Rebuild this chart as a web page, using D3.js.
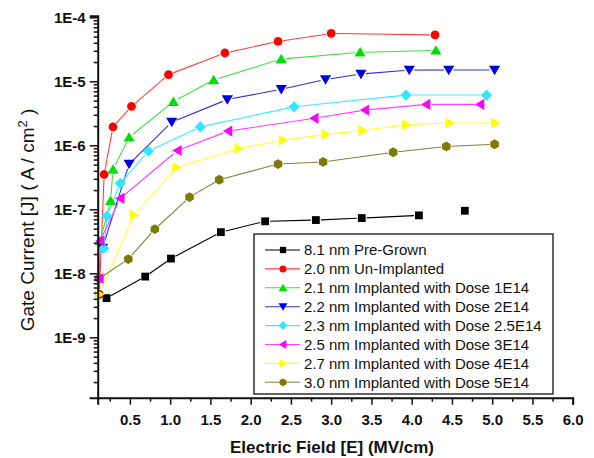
<!DOCTYPE html>
<html>
<head>
<meta charset="utf-8">
<script src="https://cdn.jsdelivr.net/npm/d3@7/dist/d3.min.js"></script>
<style>
  body { margin: 0; background: #fff; }
  svg { display: block; font-family: Arial, "Liberation Sans", sans-serif; }
</style>
</head>
<body>
<script>
// series labels, colours and marker shapes
var names = [
  "8.1 nm Pre-Grown",
  "2.0 nm Un-Implanted",
  "2.1 nm Implanted with Dose 1E14",
  "2.2 nm Implanted with Dose 2E14",
  "2.3 nm Implanted with Dose 2.5E14",
  "2.5 nm Implanted with Dose 3E14",
  "2.7 nm Implanted with Dose 4E14",
  "3.0 nm Implanted with Dose 5E14"
];
var colors = ["#000000", "#ff0000", "#00e000", "#0000e0", "#33e6ff", "#ff00ff", "#ffff00", "#7b7b00"];
var lineColors = ["#000000", "#ff4040", "#40e040", "#3030d0", "#40e8ff", "#ff40ff", "#ffff30", "#808040"];
var shapes = ["square", "circle", "up", "down", "diamond", "left", "right", "hexagon"];

// electric field (MV/cm) and gate current (A/cm2) per series
var e0 = [0.21, 0.69, 1.01, 1.63, 2.18, 2.81, 3.38, 4.09];
var j0 = [4.1e-9, 8.9e-9, 1.7e-8, 4.4e-8, 6.5e-8, 6.8e-8, 7.3e-8, 8.05e-8];
var e0Loose = [4.66];          // last pre-grown point, not joined
var j0Loose = [9.5e-8];

var e1 = [0.12, 0.18, 0.29, 0.52, 0.98, 1.68, 2.34, 3.0, 4.29];
var j1 = [4.7e-9, 3.5e-7, 1.94e-6, 4.06e-6, 1.27e-5, 2.77e-5, 4.2e-5, 5.6e-5, 5.3e-5];

var e2 = [0.13, 0.26, 0.29, 0.49, 1.04, 1.54, 2.38, 3.36, 4.30];
var j2 = [3.2e-8, 1.36e-7, 4.2e-7, 1.33e-6, 4.8e-6, 1.05e-5, 2.23e-5, 2.84e-5, 3.05e-5];

var e3 = [0.16, 0.49, 1.02, 1.71, 2.38, 2.93, 3.37, 3.97, 4.46, 5.03];
var j3 = [2.5e-8, 5.1e-7, 2.31e-6, 5.2e-6, 7.5e-6, 1.07e-5, 1.3e-5, 1.5e-5, 1.5e-5, 1.5e-5];

var e4 = [0.175, 0.215, 0.38, 0.73, 1.375, 2.54, 3.93, 4.93];
var j4 = [2.45e-8, 7.85e-8, 2.55e-7, 8.1e-7, 1.94e-6, 4.0e-6, 6.1e-6, 6.1e-6];

var e5 = [0.12, 0.13, 0.38, 1.09, 1.72, 2.79, 3.42, 4.18, 4.85];
var j5 = [8.3e-9, 3.2e-8, 1.48e-7, 8.3e-7, 1.67e-6, 2.64e-6, 3.55e-6, 4.36e-6, 4.36e-6];

var e6 = [0.12, 0.55, 1.08, 1.85, 2.40, 2.93, 3.39, 3.93, 4.47, 5.04];
var j6 = [4.7e-9, 8.1e-8, 4.5e-7, 8.9e-7, 1.2e-6, 1.48e-6, 1.71e-6, 2.1e-6, 2.23e-6, 2.23e-6];

var e7 = [0.12, 0.48, 0.81, 1.24, 1.61, 2.34, 2.90, 3.77, 4.43, 5.03];
var j7 = [8.3e-9, 1.67e-8, 4.9e-8, 1.55e-7, 2.9e-7, 5.1e-7, 5.5e-7, 7.8e-7, 9.6e-7, 1.04e-6];

var fields = [e0, e1, e2, e3, e4, e5, e6, e7];
var currents = [j0, j1, j2, j3, j4, j5, j6, j7];

// axis ticks
var xMajor = [0.5, 1.0, 1.5, 2.0, 2.5, 3.0, 3.5, 4.0, 4.5, 5.0, 5.5, 6.0];
var xMinor = [0.25, 0.75, 1.25, 1.75, 2.25, 2.75, 3.25, 3.75, 4.25, 4.75, 5.25, 5.75];
var yMajor = [1e-9, 1e-8, 1e-7, 1e-6, 1e-5, 1e-4];

var w = 594, h = 458;
var pLeft = 97.7, pRight = 572.7, pTop = 15.7, pBottom = 397.7;

var svg = d3.select("body").append("svg")
    .attr("width", w)
    .attr("height", h);

var x = d3.scaleLinear().domain([0.1, 6.0]).range([pLeft, pRight]);
var y = d3.scaleLog().domain([1.14e-10, 1.06e-4]).range([pBottom, pTop]);

// minor y ticks 2..9 of each decade
var yMinor = [];
[-10, -9, -8, -7, -6, -5].forEach(function(p) {
  for (var k = 2; k <= 9; k++) {
    var v = k * Math.pow(10, p);
    if (v > y.domain()[0] && v < y.domain()[1]) yMinor.push(v);
  }
});

// marker path, centred on 0,0
function markerPath(shape, s) {
  var p;
  if (shape == "square") {
    var a = 3.9 * s;
    return "M" + (-a) + "," + (-a) + "H" + a + "V" + a + "H" + (-a) + "Z";
  }
  if (shape == "circle") {
    var r = 4.4 * s;
    return "M" + r + ",0A" + r + "," + r + " 0 1,1 " + (-r) + ",0A" + r + "," + r + " 0 1,1 " + r + ",0Z";
  }
  if (shape == "up")      p = [[0, -5.2], [5.6, 4.2], [-5.6, 4.2]];
  if (shape == "down")    p = [[0, 5.2], [5.6, -4.2], [-5.6, -4.2]];
  if (shape == "left")    p = [[-5.2, 0], [4.2, -5.6], [4.2, 5.6]];
  if (shape == "right")   p = [[5.2, 0], [-4.2, -5.6], [-4.2, 5.6]];
  if (shape == "diamond") p = [[0, -5.6], [5.6, 0], [0, 5.6], [-5.6, 0]];
  if (shape == "hexagon") {
    p = d3.range(6).map(function(i) {
      var t = Math.PI / 3 * i - Math.PI / 2;
      return [4.9 * Math.cos(t), 4.9 * Math.sin(t)];
    });
  }
  return "M" + p.map(function(q) { return (q[0] * s) + "," + (q[1] * s); }).join("L") + "Z";
}

// lines between markers, with a small gap at each marker
var gap = 5;
var plot = svg.append("g");
fields.forEach(function(xs, i) {
  var pts = xs.map(function(v, k) { return [x(v), y(currents[i][k])]; });
  for (var k = 0; k < pts.length - 1; k++) {
    var a = pts[k], b = pts[k + 1];
    var dx = b[0] - a[0], dy = b[1] - a[1];
    var len = Math.sqrt(dx * dx + dy * dy);
    if (len < 2 * gap + 1) continue;
    var ux = dx / len, uy = dy / len;
    plot.append("line")
        .attr("x1", a[0] + ux * gap).attr("y1", a[1] + uy * gap)
        .attr("x2", b[0] - ux * gap).attr("y2", b[1] - uy * gap)
        .attr("stroke", lineColors[i])
        .attr("stroke-width", 1.1);
  }
});

// markers; olive first so the magenta one stays on top at the bottom left
[7, 0, 1, 2, 3, 4, 5, 6].forEach(function(i) {
  var xs = fields[i], ys = currents[i];
  plot.selectAll(null)
      .data(xs.map(function(v, k) { return [v, ys[k]]; }))
      .enter()
      .append("path")
      .attr("d", markerPath(shapes[i], 1))
      .attr("transform", function(d) { return "translate(" + x(d[0]) + "," + y(d[1]) + ")"; })
      .attr("fill", colors[i]);
});
plot.selectAll(null)
    .data(e0Loose.map(function(v, k) { return [v, j0Loose[k]]; }))
    .enter()
    .append("path")
    .attr("d", markerPath("square", 1))
    .attr("transform", function(d) { return "translate(" + x(d[0]) + "," + y(d[1]) + ")"; })
    .attr("fill", colors[0]);

// axes
svg.append("g")
    .attr("transform", "translate(" + pLeft + ",0)")
    .call(d3.axisLeft(y).tickValues(yMajor).tickSize(8).tickPadding(4)
      .tickFormat(function(d) { return "1E" + Math.round(Math.log10(d)); }));
svg.append("g")
    .attr("transform", "translate(" + pLeft + ",0)")
    .call(d3.axisLeft(y).tickValues(yMinor).tickSize(4).tickFormat(""))
    .select(".domain").remove();

svg.append("g")
    .attr("transform", "translate(0," + pBottom + ")")
    .call(d3.axisBottom(x).tickValues(xMajor).tickSize(7).tickPadding(10)
      .tickFormat(d3.format(".1f")));
svg.append("g")
    .attr("transform", "translate(0," + pBottom + ")")
    .call(d3.axisBottom(x).tickValues(xMinor).tickSize(4).tickFormat(""))
    .select(".domain").remove();

svg.selectAll(".domain").attr("stroke-width", 2).attr("stroke", "#111");
svg.selectAll(".tick line").attr("stroke-width", 1.5).attr("stroke", "#111");
svg.selectAll(".tick text")
    .attr("font-family", "Arial, 'Liberation Sans', sans-serif")
    .attr("font-size", 15)
    .attr("font-weight", "bold")
    .attr("fill", "#111");

// axis titles
svg.append("text")
    .attr("x", 332)
    .attr("y", 453)
    .attr("text-anchor", "middle")
    .attr("font-size", 17)
    .attr("font-weight", "bold")
    .attr("fill", "#111")
    .text("Electric Field [E] (MV/cm)");

var yt = svg.append("text")
    .attr("transform", "translate(34,220) rotate(-90)")
    .attr("text-anchor", "middle")
    .attr("font-size", 19)
    .attr("fill", "#111");
yt.append("tspan").text("Gate Current [J] ( A / cm");
yt.append("tspan").attr("dy", -7).attr("font-size", 13).text("2");
yt.append("tspan").attr("dy", 7).text(" )");

// legend
var lg = svg.append("g");
lg.append("rect")
    .attr("x", 254).attr("y", 234)
    .attr("width", 299).attr("height", 160)
    .attr("fill", "#fff")
    .attr("stroke", "#111")
    .attr("stroke-width", 1.3);
names.forEach(function(n, i) {
  var ly = 250 + i * 18.9;
  lg.append("line")
      .attr("x1", 265).attr("x2", 300)
      .attr("y1", ly).attr("y2", ly)
      .attr("stroke", lineColors[i])
      .attr("stroke-width", 1.1);
  lg.append("path")
      .attr("d", markerPath(shapes[i], 0.8))
      .attr("transform", "translate(283," + ly + ")")
      .attr("fill", colors[i]);
  lg.append("text")
      .attr("x", 304)
      .attr("y", ly + 5.3)
      .attr("font-size", 15)
      .attr("fill", "#111")
      .text(n);
});
</script>
</body>
</html>
